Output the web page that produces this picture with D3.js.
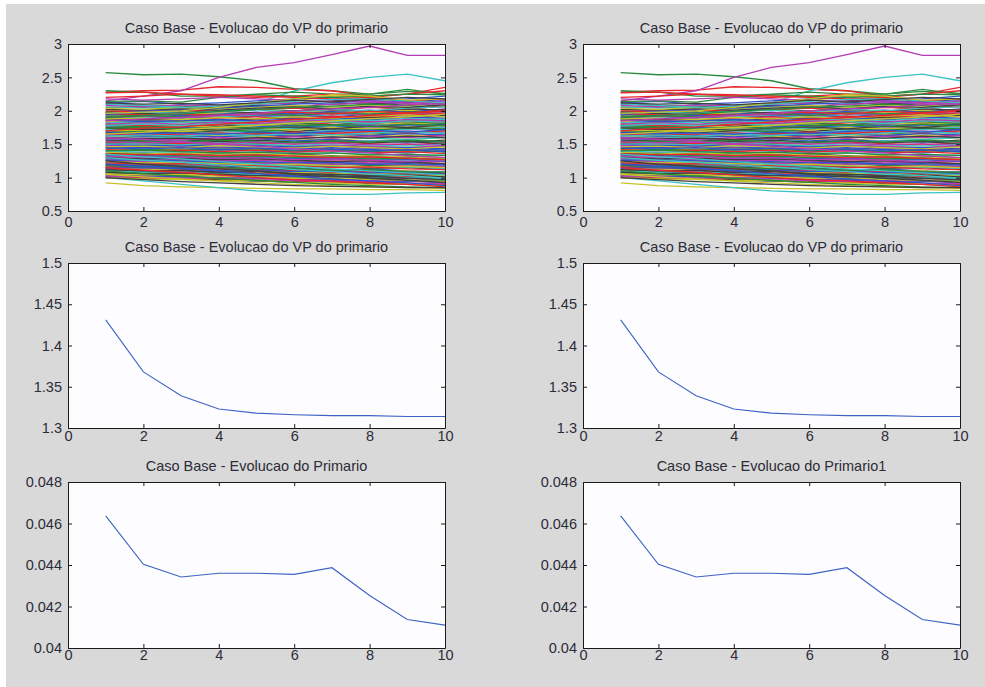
<!DOCTYPE html>
<html>
<head>
<meta charset="utf-8">
<script src="https://cdn.jsdelivr.net/npm/d3@7"></script>
<style>
  html, body { margin: 0; padding: 0; background: #ffffff; }
  svg { display: block; }
  text { font-family: "Liberation Sans", Arial, Helvetica, sans-serif; }
</style>
</head>
<body>
<svg id="fig" width="985" height="687"></svg>
<script>
// ---------------- DATA ----------------
const steps = [1, 2, 3, 4, 5, 6, 7, 8, 9, 10];

// Simulated paths of "VP do primario" (top panels)
const vpPaths = [
  [1.98,1.97,1.99,2.02,2.05,2.08,2.04,2.10,2.12,2.15],
  [2.57,2.54,2.55,2.51,2.45,2.33,2.30,2.25,2.29,2.26],
  [2.28,2.30,2.31,2.36,2.35,2.32,2.30,2.22,2.25,2.35],
  [1.95,2.00,2.05,2.08,2.12,2.30,2.42,2.50,2.55,2.45],
  [2.15,2.22,2.30,2.50,2.65,2.72,2.84,2.97,2.83,2.83],
  [0.92,0.88,0.86,0.85,0.84,0.83,0.83,0.82,0.82,0.81],
  [2.05,2.06,2.04,2.05,2.10,2.12,2.15,2.18,2.14,2.12],

  [1.12,1.10,1.08,1.05,1.03,1.00,0.98,0.97,0.95,0.93],
  [2.30,2.28,2.22,2.22,2.25,2.28,2.25,2.25,2.32,2.25],
  [2.27,2.28,2.25,2.22,2.20,2.22,2.25,2.20,2.25,2.30],
  [1.00,0.95,0.90,0.85,0.80,0.78,0.75,0.75,0.77,0.78],
  [1.85,1.86,1.88,1.84,1.87,1.90,1.92,1.89,1.93,1.95],
  [2.00,2.00,1.98,2.05,2.10,2.15,2.22,2.20,2.10,2.05],
  [1.45,1.44,1.46,1.43,1.42,1.44,1.41,1.40,1.42,1.39],

  [1.70,1.72,1.71,1.74,1.76,1.73,1.78,1.80,1.79,1.82],
  [1.25,1.23,1.22,1.20,1.21,1.18,1.17,1.15,1.16,1.13],
  [1.92,1.90,1.93,1.95,1.92,1.96,1.98,1.95,1.99,2.01],
  [1.38,1.36,1.37,1.34,1.33,1.35,1.32,1.30,1.31,1.29],
  [1.05,1.03,1.02,1.00,0.99,0.97,0.98,0.96,0.95,0.94],
  [1.55,1.56,1.54,1.57,1.55,1.58,1.56,1.59,1.57,1.60],
  [1.80,1.78,1.79,1.77,1.80,1.82,1.79,1.83,1.85,1.84],

  [1.20,1.19,1.17,1.18,1.15,1.14,1.12,1.13,1.10,1.08],
  [1.62,1.63,1.61,1.64,1.66,1.63,1.67,1.65,1.68,1.70],
  [1.48,1.46,1.47,1.45,1.44,1.46,1.43,1.45,1.42,1.44],
  [1.88,1.90,1.89,1.91,1.93,1.90,1.94,1.96,1.93,1.97],
  [1.10,1.08,1.07,1.05,1.06,1.03,1.02,1.00,1.01,0.98],
  [1.33,1.34,1.32,1.30,1.31,1.29,1.28,1.30,1.27,1.26],
  [2.10,2.08,2.07,2.05,2.08,2.06,2.10,2.12,2.08,2.11],

  [1.58,1.57,1.59,1.56,1.58,1.55,1.57,1.54,1.56,1.53],
  [1.02,1.00,0.98,0.97,0.95,0.94,0.92,0.93,0.91,0.90],
  [1.75,1.77,1.76,1.79,1.81,1.78,1.82,1.84,1.81,1.86],
  [1.28,1.27,1.25,1.26,1.24,1.22,1.23,1.21,1.20,1.18],
  [1.95,1.93,1.96,1.94,1.97,1.99,1.96,2.00,2.02,1.98],
  [1.42,1.43,1.41,1.44,1.42,1.40,1.43,1.41,1.39,1.42],
  [1.15,1.13,1.12,1.10,1.11,1.08,1.07,1.05,1.06,1.03],

  [1.90,1.88,1.91,1.89,1.92,1.94,1.91,1.95,1.97,1.96],
  [1.52,1.50,1.51,1.49,1.50,1.47,1.48,1.46,1.45,1.47],
  [1.08,1.07,1.05,1.06,1.04,1.02,1.03,1.00,0.99,0.97],
  [1.66,1.67,1.65,1.68,1.70,1.67,1.71,1.69,1.72,1.74],
  [1.35,1.33,1.34,1.32,1.31,1.33,1.30,1.28,1.29,1.27],
  [1.78,1.76,1.77,1.75,1.78,1.80,1.77,1.79,1.82,1.80],
  [1.22,1.21,1.19,1.20,1.18,1.16,1.17,1.14,1.15,1.12],

  [1.40,1.41,1.39,1.42,1.40,1.38,1.41,1.39,1.37,1.40],
  [1.98,2.00,1.97,2.01,2.03,2.00,2.04,2.06,2.03,2.07],
  [1.60,1.58,1.59,1.57,1.60,1.62,1.59,1.63,1.61,1.64],
  [1.14,1.12,1.13,1.10,1.09,1.07,1.08,1.05,1.04,1.02],
  [1.72,1.73,1.71,1.74,1.72,1.75,1.77,1.74,1.78,1.76],
  [1.26,1.24,1.25,1.22,1.23,1.21,1.19,1.20,1.17,1.16],
  [1.50,1.52,1.51,1.53,1.51,1.54,1.52,1.55,1.53,1.56],

  [1.04,1.02,1.01,0.99,1.00,0.97,0.96,0.94,0.95,0.92],
  [1.83,1.82,1.84,1.81,1.84,1.86,1.83,1.87,1.89,1.86],
  [1.30,1.31,1.29,1.27,1.28,1.26,1.27,1.25,1.23,1.24],
  [1.56,1.54,1.55,1.53,1.56,1.54,1.52,1.55,1.53,1.51],
  [2.02,2.00,2.03,2.01,2.04,2.07,2.03,2.08,2.06,2.10],
  [1.18,1.16,1.17,1.14,1.15,1.12,1.11,1.09,1.10,1.07],
  [1.68,1.69,1.67,1.70,1.72,1.69,1.73,1.71,1.74,1.72],

  [1.46,1.45,1.47,1.44,1.46,1.43,1.45,1.42,1.44,1.41],
  [1.10,1.09,1.07,1.08,1.05,1.04,1.02,1.03,1.00,0.99],
  [1.86,1.88,1.86,1.89,1.91,1.88,1.92,1.90,1.94,1.96],
  [1.34,1.32,1.33,1.31,1.29,1.30,1.28,1.26,1.27,1.25],
  [1.64,1.65,1.63,1.66,1.64,1.67,1.65,1.68,1.70,1.67],
  [1.96,1.94,1.95,1.97,1.95,1.98,2.00,1.97,2.01,1.99],
  [1.00,0.98,0.99,0.96,0.95,0.93,0.94,0.91,0.90,0.88],

  [1.76,1.74,1.75,1.73,1.76,1.78,1.75,1.79,1.77,1.80],
  [1.24,1.25,1.23,1.21,1.22,1.20,1.21,1.18,1.19,1.16],
  [1.52,1.53,1.51,1.54,1.52,1.50,1.53,1.51,1.49,1.52],
  [2.06,2.04,2.05,2.03,2.06,2.08,2.05,2.09,2.07,2.11],
  [1.16,1.14,1.15,1.12,1.13,1.10,1.11,1.08,1.07,1.05],
  [1.62,1.60,1.61,1.63,1.61,1.64,1.62,1.65,1.63,1.66],
  [1.36,1.37,1.35,1.36,1.34,1.35,1.33,1.31,1.32,1.30],

  [1.94,1.96,1.93,1.95,1.98,1.95,1.99,2.01,1.98,2.03],
  [1.44,1.42,1.43,1.41,1.43,1.40,1.42,1.39,1.41,1.38],
  [1.12,1.11,1.09,1.10,1.07,1.06,1.04,1.05,1.02,1.01],
  [1.72,1.70,1.71,1.73,1.71,1.74,1.76,1.73,1.77,1.75],
  [1.28,1.29,1.27,1.25,1.26,1.24,1.25,1.22,1.23,1.20],
  [1.84,1.85,1.83,1.86,1.84,1.87,1.85,1.88,1.90,1.87],
  [1.56,1.55,1.57,1.54,1.56,1.53,1.55,1.52,1.54,1.51],

  [1.08,1.06,1.07,1.04,1.05,1.02,1.01,0.99,1.00,0.97],
  [1.68,1.70,1.68,1.71,1.69,1.72,1.74,1.71,1.75,1.73],
  [2.00,1.98,2.01,1.99,2.02,2.04,2.01,2.05,2.03,2.07],
  [1.22,1.20,1.21,1.19,1.20,1.17,1.18,1.15,1.16,1.13],
  [1.48,1.49,1.47,1.50,1.48,1.46,1.49,1.47,1.45,1.48],
  [1.14,1.13,1.11,1.12,1.09,1.08,1.06,1.07,1.04,1.03],
  [1.88,1.86,1.87,1.85,1.88,1.90,1.87,1.91,1.89,1.93],

  [1.32,1.33,1.31,1.29,1.30,1.28,1.29,1.26,1.27,1.24],
  [1.78,1.76,1.78,1.80,1.78,1.81,1.79,1.82,1.84,1.81],
  [1.02,1.00,0.98,0.99,0.96,0.95,0.93,0.94,0.91,0.89],
  [1.60,1.61,1.59,1.62,1.60,1.58,1.61,1.59,1.57,1.60],
  [1.90,1.92,1.90,1.93,1.95,1.92,1.96,1.94,1.97,1.99],
  [1.38,1.36,1.37,1.35,1.36,1.34,1.32,1.33,1.31,1.29],
  [1.18,1.17,1.15,1.16,1.13,1.12,1.10,1.11,1.08,1.07],

  [1.64,1.62,1.63,1.61,1.64,1.62,1.65,1.63,1.66,1.64],
  [1.06,1.05,1.03,1.04,1.01,1.00,0.98,0.99,0.96,0.95],
  [1.42,1.40,1.41,1.39,1.41,1.38,1.40,1.37,1.39,1.36],
  [1.82,1.84,1.82,1.85,1.83,1.86,1.88,1.85,1.89,1.87],
  [1.26,1.24,1.25,1.23,1.21,1.22,1.20,1.21,1.18,1.17],
  [1.70,1.71,1.69,1.72,1.74,1.71,1.75,1.73,1.76,1.78],
  [1.98,1.96,1.97,1.99,1.97,2.00,2.02,1.99,2.03,2.01],

  [1.50,1.48,1.49,1.47,1.48,1.46,1.47,1.44,1.45,1.43],
  [1.92,1.93,1.91,1.94,1.96,1.93,1.97,1.95,1.98,2.00],
  [1.16,1.15,1.13,1.14,1.11,1.10,1.08,1.09,1.06,1.05],
  [1.40,1.38,1.39,1.37,1.38,1.36,1.37,1.35,1.33,1.34],
  [1.58,1.59,1.57,1.60,1.58,1.61,1.59,1.62,1.60,1.63],
  [1.06,1.04,1.05,1.02,1.01,0.99,1.00,0.97,0.96,0.94],
  [1.74,1.72,1.73,1.71,1.74,1.76,1.73,1.77,1.75,1.79],

  [1.26,1.27,1.25,1.23,1.24,1.22,1.23,1.20,1.21,1.19],
  [1.54,1.55,1.53,1.56,1.54,1.52,1.55,1.53,1.56,1.54],
  [1.80,1.78,1.79,1.81,1.79,1.82,1.84,1.81,1.85,1.83],
  [1.10,1.08,1.09,1.06,1.05,1.03,1.04,1.01,1.00,0.98],
  [2.08,2.06,2.09,2.07,2.10,2.12,2.09,2.13,2.11,2.15],
  [1.46,1.47,1.45,1.48,1.46,1.44,1.47,1.45,1.43,1.46],
  [1.30,1.28,1.29,1.27,1.28,1.26,1.24,1.25,1.23,1.21],

  [1.86,1.84,1.85,1.87,1.85,1.88,1.90,1.87,1.91,1.89],
  [1.34,1.35,1.33,1.31,1.32,1.30,1.31,1.28,1.29,1.27],
  [1.66,1.64,1.65,1.67,1.65,1.68,1.66,1.69,1.67,1.70],
  [1.96,1.98,1.96,1.99,2.01,1.98,2.02,2.00,2.04,2.06],
  [1.02,1.01,0.99,1.00,0.97,0.96,0.94,0.95,0.92,0.91],
  [1.24,1.22,1.23,1.21,1.19,1.20,1.18,1.16,1.17,1.15],
  [1.60,1.58,1.59,1.57,1.60,1.58,1.61,1.59,1.62,1.60],

  [1.14,1.15,1.13,1.11,1.12,1.09,1.10,1.07,1.08,1.05],
  [1.74,1.75,1.73,1.76,1.74,1.77,1.79,1.76,1.80,1.78],
  [1.36,1.34,1.35,1.33,1.34,1.32,1.30,1.31,1.29,1.27],
  [1.50,1.51,1.49,1.52,1.50,1.48,1.51,1.49,1.47,1.50],
  [1.80,1.82,1.80,1.83,1.81,1.84,1.86,1.83,1.87,1.85],
  [1.00,0.98,0.97,0.95,0.96,0.93,0.92,0.90,0.91,0.88],
  [2.02,2.01,2.03,2.01,2.04,2.06,2.03,2.07,2.05,2.09],

  [1.44,1.43,1.45,1.42,1.44,1.41,1.43,1.40,1.42,1.39],
  [1.18,1.16,1.17,1.15,1.13,1.14,1.11,1.12,1.09,1.08],
  [1.96,1.94,1.95,1.93,1.96,1.98,1.95,1.99,1.97,2.01],
  [1.62,1.64,1.62,1.65,1.63,1.66,1.64,1.67,1.69,1.66],
  [1.32,1.30,1.31,1.29,1.30,1.27,1.28,1.26,1.24,1.25],
  [1.88,1.89,1.87,1.90,1.88,1.91,1.89,1.92,1.94,1.91],
  [1.08,1.06,1.07,1.05,1.03,1.04,1.01,1.02,0.99,0.97],

  [1.68,1.66,1.67,1.65,1.68,1.66,1.69,1.71,1.68,1.72],
  [1.40,1.41,1.39,1.37,1.38,1.36,1.37,1.34,1.35,1.33],
  [1.22,1.20,1.21,1.19,1.17,1.18,1.15,1.16,1.13,1.12],
  [1.78,1.80,1.78,1.81,1.79,1.82,1.84,1.81,1.85,1.83],
  [1.54,1.52,1.53,1.51,1.53,1.50,1.52,1.49,1.51,1.48],
  [2.04,2.02,2.05,2.03,2.06,2.08,2.05,2.09,2.07,2.12],
  [1.12,1.10,1.11,1.08,1.09,1.06,1.05,1.03,1.04,1.01],

  [1.20,1.17,1.14,1.10,1.06,1.02,0.98,0.95,0.92,0.88],
  [1.90,1.93,1.95,1.99,2.02,2.05,2.07,2.10,2.08,2.12],
  [1.15,1.11,1.08,1.04,1.00,0.97,0.95,0.92,0.90,0.86],
  [1.30,1.26,1.23,1.19,1.16,1.12,1.09,1.05,1.03,0.99],
  [1.85,1.88,1.90,1.93,1.96,2.00,2.03,2.05,2.09,2.11],
  [1.05,1.01,0.98,0.95,0.92,0.90,0.88,0.86,0.85,0.84],
  [1.25,1.20,1.17,1.13,1.10,1.06,1.03,0.99,0.96,0.93],

  [1.95,1.99,2.01,2.04,2.07,2.10,2.12,2.15,2.13,2.17],
  [1.10,1.06,1.02,0.99,0.96,0.93,0.90,0.88,0.86,0.85],
  [1.70,1.74,1.76,1.80,1.83,1.87,1.90,1.93,1.96,1.99],
  [1.35,1.31,1.28,1.24,1.20,1.17,1.13,1.10,1.07,1.04],
  [1.60,1.57,1.54,1.50,1.47,1.43,1.40,1.37,1.33,1.30],
  [1.65,1.68,1.72,1.75,1.78,1.82,1.85,1.88,1.91,1.95],
  [1.00,0.97,0.94,0.92,0.90,0.88,0.87,0.86,0.85,0.85],

  [2.12,2.14,2.10,2.12,2.15,2.18,2.20,2.16,2.18,2.22],
  [2.14,2.15,2.13,2.20,2.24,2.22,2.20,2.22,2.25,2.24],
  [2.20,2.22,2.25,2.24,2.22,2.20,2.18,2.20,2.15,2.18],
  [2.10,2.08,2.05,2.07,2.10,2.14,2.17,2.18,2.15,2.12],
  [2.18,2.16,2.18,2.20,2.18,2.16,2.14,2.15,2.12,2.10],
  [1.96,1.98,2.00,2.05,2.12,2.18,2.24,2.22,2.16,2.18],
  [2.12,2.10,2.11,2.09,2.12,2.16,2.13,2.17,2.20,2.18]
];

// Mean VP do primario (middle panels)
const vpMean = [1.431, 1.368, 1.339, 1.323, 1.318, 1.316, 1.315, 1.315, 1.314, 1.314];

// Primario (bottom panels)
const primario = [0.04637, 0.04403, 0.04342, 0.04360, 0.04360, 0.04355, 0.04387, 0.04253, 0.04137, 0.04110];

// Tick labels
const xTicks = [0, 2, 4, 6, 8, 10];
const yTicksVP = [0.5, 1, 1.5, 2, 2.5, 3];
const yTicksMean = [1.3, 1.35, 1.4, 1.45, 1.5];
const yTicksPrim = [0.04, 0.042, 0.044, 0.046, 0.048];

const titles = [
  "Caso Base - Evolucao do VP do primario",
  "Caso Base - Evolucao do VP do primario",
  "Caso Base - Evolucao do VP do primario",
  "Caso Base - Evolucao do VP do primario",
  "Caso Base - Evolucao do Primario",
  "Caso Base - Evolucao do Primario1"
];

// MATLAB classic color order: b g r c m y k
const colorOrder = ["#3052c8", "#2a8a3c", "#e8262b", "#3cc2c2", "#b43cb4", "#c8c22a", "#404040"];

// ---------------- LAYOUT ----------------
const svg = d3.select("#fig");
svg.append("rect").attr("x", 6).attr("y", 4).attr("width", 979).attr("height", 683).attr("fill", "#d9d9d9");

const cols = [{ x0: 68, x1: 445 }, { x0: 583, x1: 960 }];
const rows = [
  { y0: 44, y1: 211, domain: [0.5, 3], ticks: yTicksVP, fmt: d => String(d), kind: "multi", xPad: 6 },
  { y0: 263, y1: 428, domain: [1.3, 1.5], ticks: yTicksMean, fmt: d => String(d), kind: "mean", xPad: 3 },
  { y0: 482, y1: 648, domain: [0.04, 0.048], ticks: yTicksPrim, fmt: d => String(d), kind: "prim", xPad: 2 }
];

const textColor = "#2c2c38";
const fontSize = "14.5px";

rows.forEach((row, ri) => {
  cols.forEach((col, ci) => {
    const idx = ri * 2 + ci;
    const x = d3.scaleLinear().domain([0, 10]).range([col.x0, col.x1]);
    const y = d3.scaleLinear().domain(row.domain).range([row.y1, row.y0]);
    const g = svg.append("g");

    g.append("rect")
      .attr("x", col.x0).attr("y", row.y0)
      .attr("width", col.x1 - col.x0).attr("height", row.y1 - row.y0)
      .attr("fill", "#fdfdff");

    const clipId = "clip" + idx;
    svg.append("clipPath").attr("id", clipId).append("rect")
      .attr("x", col.x0).attr("y", row.y0)
      .attr("width", col.x1 - col.x0).attr("height", row.y1 - row.y0);

    const line = d3.line().x((d, i) => x(steps[i])).y(d => y(d));
    const plot = g.append("g").attr("clip-path", `url(#${clipId})`);

    if (row.kind === "multi") {
      plot.selectAll("path.vp").data(vpPaths).enter().append("path")
        .attr("class", "vp")
        .attr("d", line)
        .attr("fill", "none")
        .attr("stroke", (d, i) => colorOrder[i % colorOrder.length])
        .attr("stroke-width", 1.3);
    } else {
      const series = row.kind === "mean" ? vpMean : primario;
      plot.append("path").datum(series)
        .attr("d", line)
        .attr("fill", "none")
        .attr("stroke", "#3d62c4")
        .attr("stroke-width", 1.1);
    }

    const tick = 4;
    const ax = g.append("g").attr("transform", `translate(0,${row.y1})`)
      .call(d3.axisBottom(x).tickValues(xTicks).tickSize(-tick).tickSizeOuter(0).tickPadding(row.xPad).tickFormat(d => String(d)));
    const axTop = g.append("g").attr("transform", `translate(0,${row.y0})`)
      .call(d3.axisTop(x).tickValues(xTicks).tickSize(-tick).tickSizeOuter(0).tickFormat(""));
    const ay = g.append("g").attr("transform", `translate(${col.x0},0)`)
      .call(d3.axisLeft(y).tickValues(row.ticks).tickSize(-tick).tickSizeOuter(0).tickPadding(6).tickFormat(row.fmt));
    const ayR = g.append("g").attr("transform", `translate(${col.x1},0)`)
      .call(d3.axisRight(y).tickValues(row.ticks).tickSize(-tick).tickSizeOuter(0).tickFormat(""));

    [ax, axTop, ay, ayR].forEach(a => {
      a.selectAll(".domain").attr("stroke", "#1a1a1a").attr("stroke-width", 1);
      a.selectAll(".tick line").attr("stroke", "#1a1a1a").attr("stroke-width", 1);
      a.selectAll("text").attr("fill", textColor).style("font-size", fontSize)
        .style("font-family", '"Liberation Sans", Arial, sans-serif');
    });

    g.append("text")
      .attr("x", (col.x0 + col.x1) / 2)
      .attr("y", row.y0 - 11)
      .attr("text-anchor", "middle")
      .attr("fill", textColor)
      .style("font-size", fontSize)
      .text(titles[idx]);
  });
});
</script>
</body>
</html>
